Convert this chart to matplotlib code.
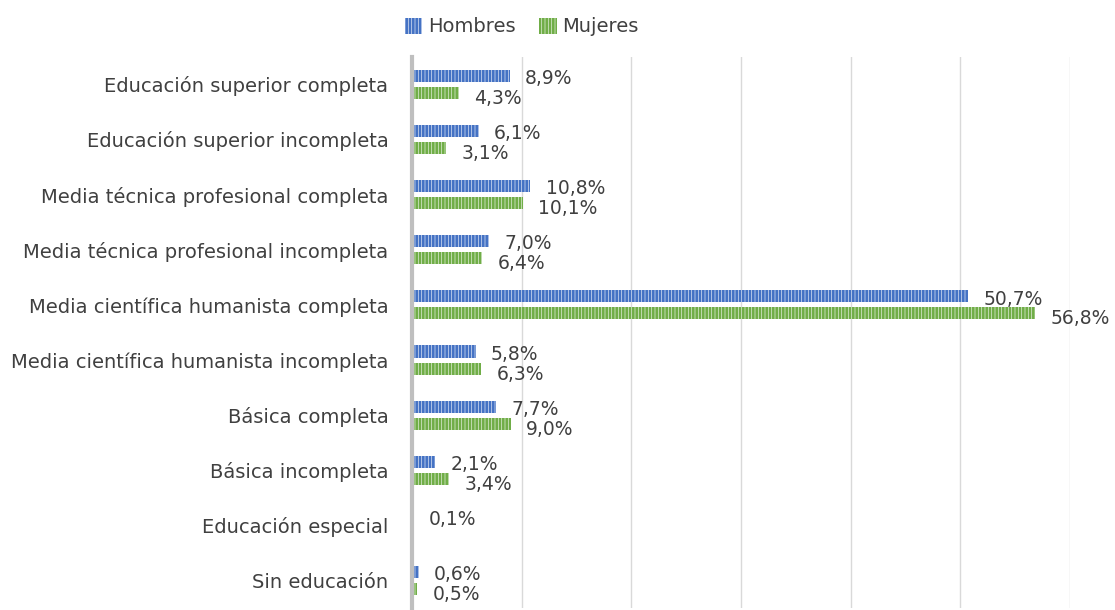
import matplotlib.pyplot as plt
import numpy as np

categorias = ["Sin educación", "Educación especial", "Básica incompleta",
              "Básica completa", "Media científica humanista incompleta",
              "Media científica humanista completa",
              "Media técnica profesional incompleta",
              "Media técnica profesional completa",
              "Educación superior incompleta", "Educación superior completa"]
hombres = [0.6, 0.1, 2.1, 7.7, 5.8, 50.7, 7.0, 10.8, 6.1, 8.9]
mujeres = [0.5, 0.0, 3.4, 9.0, 6.3, 56.8, 6.4, 10.1, 3.1, 4.3]

azul = "#4472C4"
verde = "#70AD47"
texto = "#404040"

plt.rcParams['hatch.linewidth'] = 0.5
fig = plt.figure(figsize=(11.15, 6.10), dpi=100)
ax = fig.add_axes([0.3695, 0.003, 0.5901, 0.904])

y = np.arange(len(categorias))
h = 0.22
off = 0.155

bh = ax.barh(y + off, hombres, height=h, color=azul, edgecolor="#DDE6F5",
             linewidth=0, hatch="|||||", label="Hombres", zorder=3)
bm = ax.barh(y - off, mujeres, height=h, color=verde, edgecolor="#E2EFDA",
             linewidth=0, hatch="|||||", label="Mujeres", zorder=3)

def fmt(v):
    return f"{v:.1f}".replace(".", ",") + "%"

for yi, v in zip(y, hombres):
    ax.annotate(fmt(v), (v, yi + off), xytext=(11, -2), textcoords="offset points",
                va="center", ha="left", fontsize=13.5, color=texto)
for yi, v in zip(y, mujeres):
    if v > 0:
        ax.annotate(fmt(v), (v, yi - off), xytext=(11, -4), textcoords="offset points",
                    va="center", ha="left", fontsize=13.5, color=texto)

ax.set_xlim(0, 60)
ax.set_ylim(-0.5, len(categorias) - 0.5)
ax.set_xticks(np.arange(0, 61, 10))
ax.set_xticklabels([])
ax.tick_params(axis="x", length=0)
ax.tick_params(axis="y", length=0, pad=17)
ax.set_yticks(y)
ax.set_yticklabels(categorias, fontsize=14, color=texto)
ax.grid(axis="x", color="#D9D9D9", linewidth=1, zorder=0)
for s in ["top", "right", "bottom"]:
    ax.spines[s].set_visible(False)
ax.spines["left"].set_color("#BFBFBF")
ax.spines["left"].set_linewidth(3)
ax.spines["left"].set_zorder(4)

fig.legend(handles=[bh, bm], loc="upper center", bbox_to_anchor=(0.468, 1.0),
           ncol=2, frameon=False, fontsize=14, labelcolor=texto,
           handlelength=0.9, handleheight=0.9, handletextpad=0.3, columnspacing=1.2)

fig.savefig("out.png", dpi=100)
